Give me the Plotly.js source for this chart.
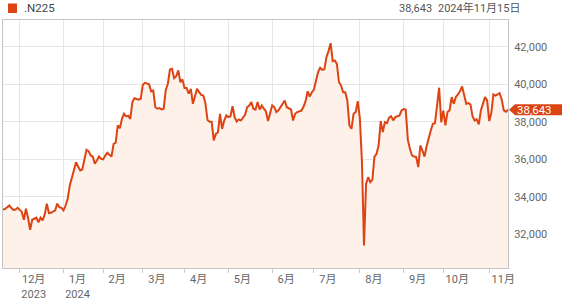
<!DOCTYPE html>
<html>
<head>
<meta charset="utf-8">
<script src="https://cdn.plot.ly/plotly-3.0.1.min.js"></script>
<style>html,body{margin:0;padding:0;background:#fff}#chart{width:567px;height:302px}</style>
</head>
<body>
<div id="chart"></div>
<script>
const seriesName = ".N225";
const lastValueText = "38,643";
const dateText = "2024年11月15日";

const dates = [
"2023-11-20","2023-11-21","2023-11-22","2023-11-24","2023-11-27","2023-11-28","2023-11-29","2023-11-30",
"2023-12-01","2023-12-04","2023-12-05","2023-12-06","2023-12-07","2023-12-08","2023-12-11","2023-12-12","2023-12-13","2023-12-14","2023-12-15","2023-12-18","2023-12-19","2023-12-20","2023-12-21","2023-12-22","2023-12-25","2023-12-26","2023-12-27","2023-12-28","2023-12-29",
"2024-01-04","2024-01-05","2024-01-09","2024-01-10","2024-01-11","2024-01-12","2024-01-15","2024-01-16","2024-01-17","2024-01-18","2024-01-19","2024-01-22","2024-01-23","2024-01-24","2024-01-25","2024-01-26","2024-01-29","2024-01-30","2024-01-31",
"2024-02-01","2024-02-02","2024-02-05","2024-02-06","2024-02-07","2024-02-08","2024-02-09","2024-02-13","2024-02-14","2024-02-15","2024-02-16","2024-02-19","2024-02-20","2024-02-21","2024-02-22","2024-02-26","2024-02-27","2024-02-28","2024-02-29",
"2024-03-01","2024-03-04","2024-03-05","2024-03-06","2024-03-07","2024-03-08","2024-03-11","2024-03-12","2024-03-13","2024-03-14","2024-03-15","2024-03-18","2024-03-19","2024-03-21","2024-03-22","2024-03-25","2024-03-26","2024-03-27","2024-03-28","2024-03-29",
"2024-04-01","2024-04-02","2024-04-03","2024-04-04","2024-04-05","2024-04-08","2024-04-09","2024-04-10","2024-04-11","2024-04-12","2024-04-15","2024-04-16","2024-04-17","2024-04-18","2024-04-19","2024-04-22","2024-04-23","2024-04-24","2024-04-25","2024-04-26","2024-04-30",
"2024-05-01","2024-05-02","2024-05-07","2024-05-08","2024-05-09","2024-05-10","2024-05-13","2024-05-14","2024-05-15","2024-05-16","2024-05-17","2024-05-20","2024-05-21","2024-05-22","2024-05-23","2024-05-24","2024-05-27","2024-05-28","2024-05-29","2024-05-30","2024-05-31",
"2024-06-03","2024-06-04","2024-06-05","2024-06-06","2024-06-07","2024-06-10","2024-06-11","2024-06-12","2024-06-13","2024-06-14","2024-06-17","2024-06-18","2024-06-19","2024-06-20","2024-06-21","2024-06-24","2024-06-25","2024-06-26","2024-06-27","2024-06-28",
"2024-07-01","2024-07-02","2024-07-03","2024-07-04","2024-07-05","2024-07-08","2024-07-09","2024-07-10","2024-07-11","2024-07-12","2024-07-16","2024-07-17","2024-07-18","2024-07-19","2024-07-22","2024-07-23","2024-07-24","2024-07-25","2024-07-26","2024-07-29","2024-07-30","2024-07-31",
"2024-08-01","2024-08-02","2024-08-05","2024-08-06","2024-08-07","2024-08-08","2024-08-09","2024-08-13","2024-08-14","2024-08-15","2024-08-16","2024-08-19","2024-08-20","2024-08-21","2024-08-22","2024-08-23","2024-08-26","2024-08-27","2024-08-28","2024-08-29","2024-08-30",
"2024-09-02","2024-09-03","2024-09-04","2024-09-05","2024-09-06","2024-09-09","2024-09-10","2024-09-11","2024-09-12","2024-09-13","2024-09-17","2024-09-18","2024-09-19","2024-09-20","2024-09-24","2024-09-25","2024-09-26","2024-09-27","2024-09-30",
"2024-10-01","2024-10-02","2024-10-03","2024-10-04","2024-10-07","2024-10-08","2024-10-09","2024-10-10","2024-10-11","2024-10-15","2024-10-16","2024-10-17","2024-10-18","2024-10-21","2024-10-22","2024-10-23","2024-10-24","2024-10-25","2024-10-28","2024-10-29","2024-10-30","2024-10-31",
"2024-11-01","2024-11-05","2024-11-06","2024-11-07","2024-11-08","2024-11-11","2024-11-12","2024-11-13","2024-11-14","2024-11-15"
];

const values = [
33330,33360,33450,33540,33400,33310,33330,33420,
33310,33200,32780,33370,32890,32250,32780,32840,32900,32650,32890,32750,33070,33640,33130,33150,33200,33280,33640,33450,33420,
33280,33540,33900,34610,35050,35410,35850,35620,35410,35460,35940,36510,36440,36210,36150,35770,35940,36150,36030,
36000,36200,36350,36250,36150,36830,36890,37810,37660,38160,38430,38290,38330,38160,39050,39260,39200,39180,39230,
39970,40080,40030,40000,39620,39670,38780,38700,38730,38660,38700,39700,40030,40790,40830,40330,40430,40740,40110,40260,
39800,39800,39500,39760,38960,39440,39760,39580,39440,39400,39000,38100,38000,38000,37010,37360,37450,38430,37630,38070,38340,
38250,38300,38830,38250,38020,38130,38070,38250,38380,38780,38870,39050,38700,38650,39050,38660,38870,38700,38550,38040,38520,
38870,38780,38520,38610,38780,38960,39140,38780,38720,38660,38070,38430,38520,38550,38600,38800,39100,39630,39350,39580,
39710,40200,40650,40880,40770,40800,41450,41770,42190,41230,41270,41090,40110,39940,39580,39580,39140,37810,37630,38430,38520,39100,
38200,35900,31410,34700,35050,34790,34910,36150,36300,36740,38040,37450,37980,37930,38220,38300,38080,38250,38290,38340,38610,
38680,38650,37050,36560,36210,36150,36120,35590,36740,36470,36150,36700,37200,37540,37900,37930,38870,39820,37980,
38600,37810,38520,38610,39320,38960,39320,39460,39630,39890,39400,38960,39000,38930,38300,38070,38140,37860,38610,38960,39320,39140,
38040,38470,39460,39400,39460,39530,39180,38610,38540,38643
];

// Tokyo market holidays (weekdays) inside the window
const holidays = ["2023-11-23","2024-01-01","2024-01-02","2024-01-03","2024-01-08","2024-02-12","2024-02-23",
  "2024-03-20","2024-04-29","2024-05-03","2024-05-06","2024-07-15","2024-08-12","2024-09-16","2024-09-23",
  "2024-10-14","2024-11-04"];

// first trading day of each month, used for ticks
const tickDates = ["2023-12-01","2024-01-04","2024-02-01","2024-03-01","2024-04-01","2024-05-01","2024-06-03",
  "2024-07-01","2024-08-01","2024-09-02","2024-10-01","2024-11-01"];
const tickLabels = ["12月<br>2023","1月<br>2024","2月","3月","4月","5月","6月","7月","8月","9月","10月","11月"];
const yearStart = "2024-01-04";

const lineColor = "#dc4414";
const font = "Roboto, 'Noto Sans CJK JP', sans-serif";
const lastValue = values[values.length - 1];

const trace = {
  x: dates, y: values, type: "scatter", mode: "lines",
  line: {color: lineColor, width: 2},
  fill: "tozeroy", fillcolor: "#fdf1e9",
  hoverinfo: "skip", showlegend: false
};

const layout = {
  width: 567, height: 302,
  margin: {l: 3, r: 59, t: 20, b: 34},
  paper_bgcolor: "#ffffff", plot_bgcolor: "#ffffff",
  font: {family: font, size: 11, color: "#666"},
  showlegend: false,
  xaxis: {
    type: "date",
    range: [dates[0], dates[dates.length - 1]],
    rangebreaks: [{bounds: ["sat", "mon"]}, {values: holidays}],
    tickmode: "array", tickvals: tickDates, ticktext: tickLabels,
    ticks: "outside", ticklen: 4, tickcolor: "#cccccc",
    ticklabelshift: 14, ticklabelstandoff: -3,
    tickfont: {family: font, size: 11, color: "#666"},
    showgrid: true, gridcolor: "#e6e6e6", gridwidth: 1,
    showline: true, linecolor: "#c4c4c4", linewidth: 1, mirror: true,
    zeroline: false, fixedrange: true
  },
  yaxis: {
    side: "right",
    range: [30210, 43428],
    tickmode: "linear", tick0: 32000, dtick: 2000,
    tickformat: ",d",
    ticks: "", ticklabelstandoff: 3,
    tickfont: {family: font, size: 11, color: "#666"},
    showgrid: true, gridcolor: "#e6e6e6", gridwidth: 1,
    showline: true, linecolor: "#c4c4c4", linewidth: 1, mirror: true,
    zeroline: false, fixedrange: true
  },
  shapes: [
    {type: "line", xref: "x", yref: "paper", x0: yearStart, x1: yearStart, y0: 0, y1: 1,
     line: {color: "#b5b5b5", width: 1}, layer: "below"},
    {type: "rect", xref: "paper", yref: "paper", xsizemode: "pixel", ysizemode: "pixel",
     xanchor: 0, yanchor: 1, x0: 5, x1: 14, y0: 7, y1: 16.5,
     fillcolor: lineColor, line: {width: 0}},
    {type: "path", xref: "paper", yref: "y", xsizemode: "pixel", ysizemode: "pixel",
     xanchor: 1, yanchor: lastValue,
     path: "M 1 0 L 7 5.5 L 54 5.5 L 54 -5.5 L 7 -5.5 Z",
     fillcolor: lineColor, line: {width: 0}}
  ],
  annotations: [
    {xref: "paper", yref: "paper", x: 0, y: 1, xanchor: "left", yanchor: "middle",
     xshift: 19, yshift: 12, showarrow: false, text: seriesName,
     font: {family: font, size: 11.5, color: "#444"}},
    {xref: "paper", yref: "paper", x: 0, y: 1, xanchor: "left", yanchor: "middle",
     xshift: 394, yshift: 12, showarrow: false, text: lastValueText,
     font: {family: font, size: 11, color: "#555"}},
    {xref: "paper", yref: "paper", x: 0, y: 1, xanchor: "left", yanchor: "middle",
     xshift: 433, yshift: 12, showarrow: false, text: dateText,
     font: {family: font, size: 11, color: "#555"}},
    {xref: "paper", yref: "y", x: 1, y: lastValue, xanchor: "left", yanchor: "middle",
     xshift: 7, showarrow: false, text: lastValueText,
     font: {family: font, size: 11.5, color: "#ffffff"}}
  ]
};

Plotly.newPlot("chart", [trace], layout, {displayModeBar: false, staticPlot: true});
</script>
</body>
</html>
